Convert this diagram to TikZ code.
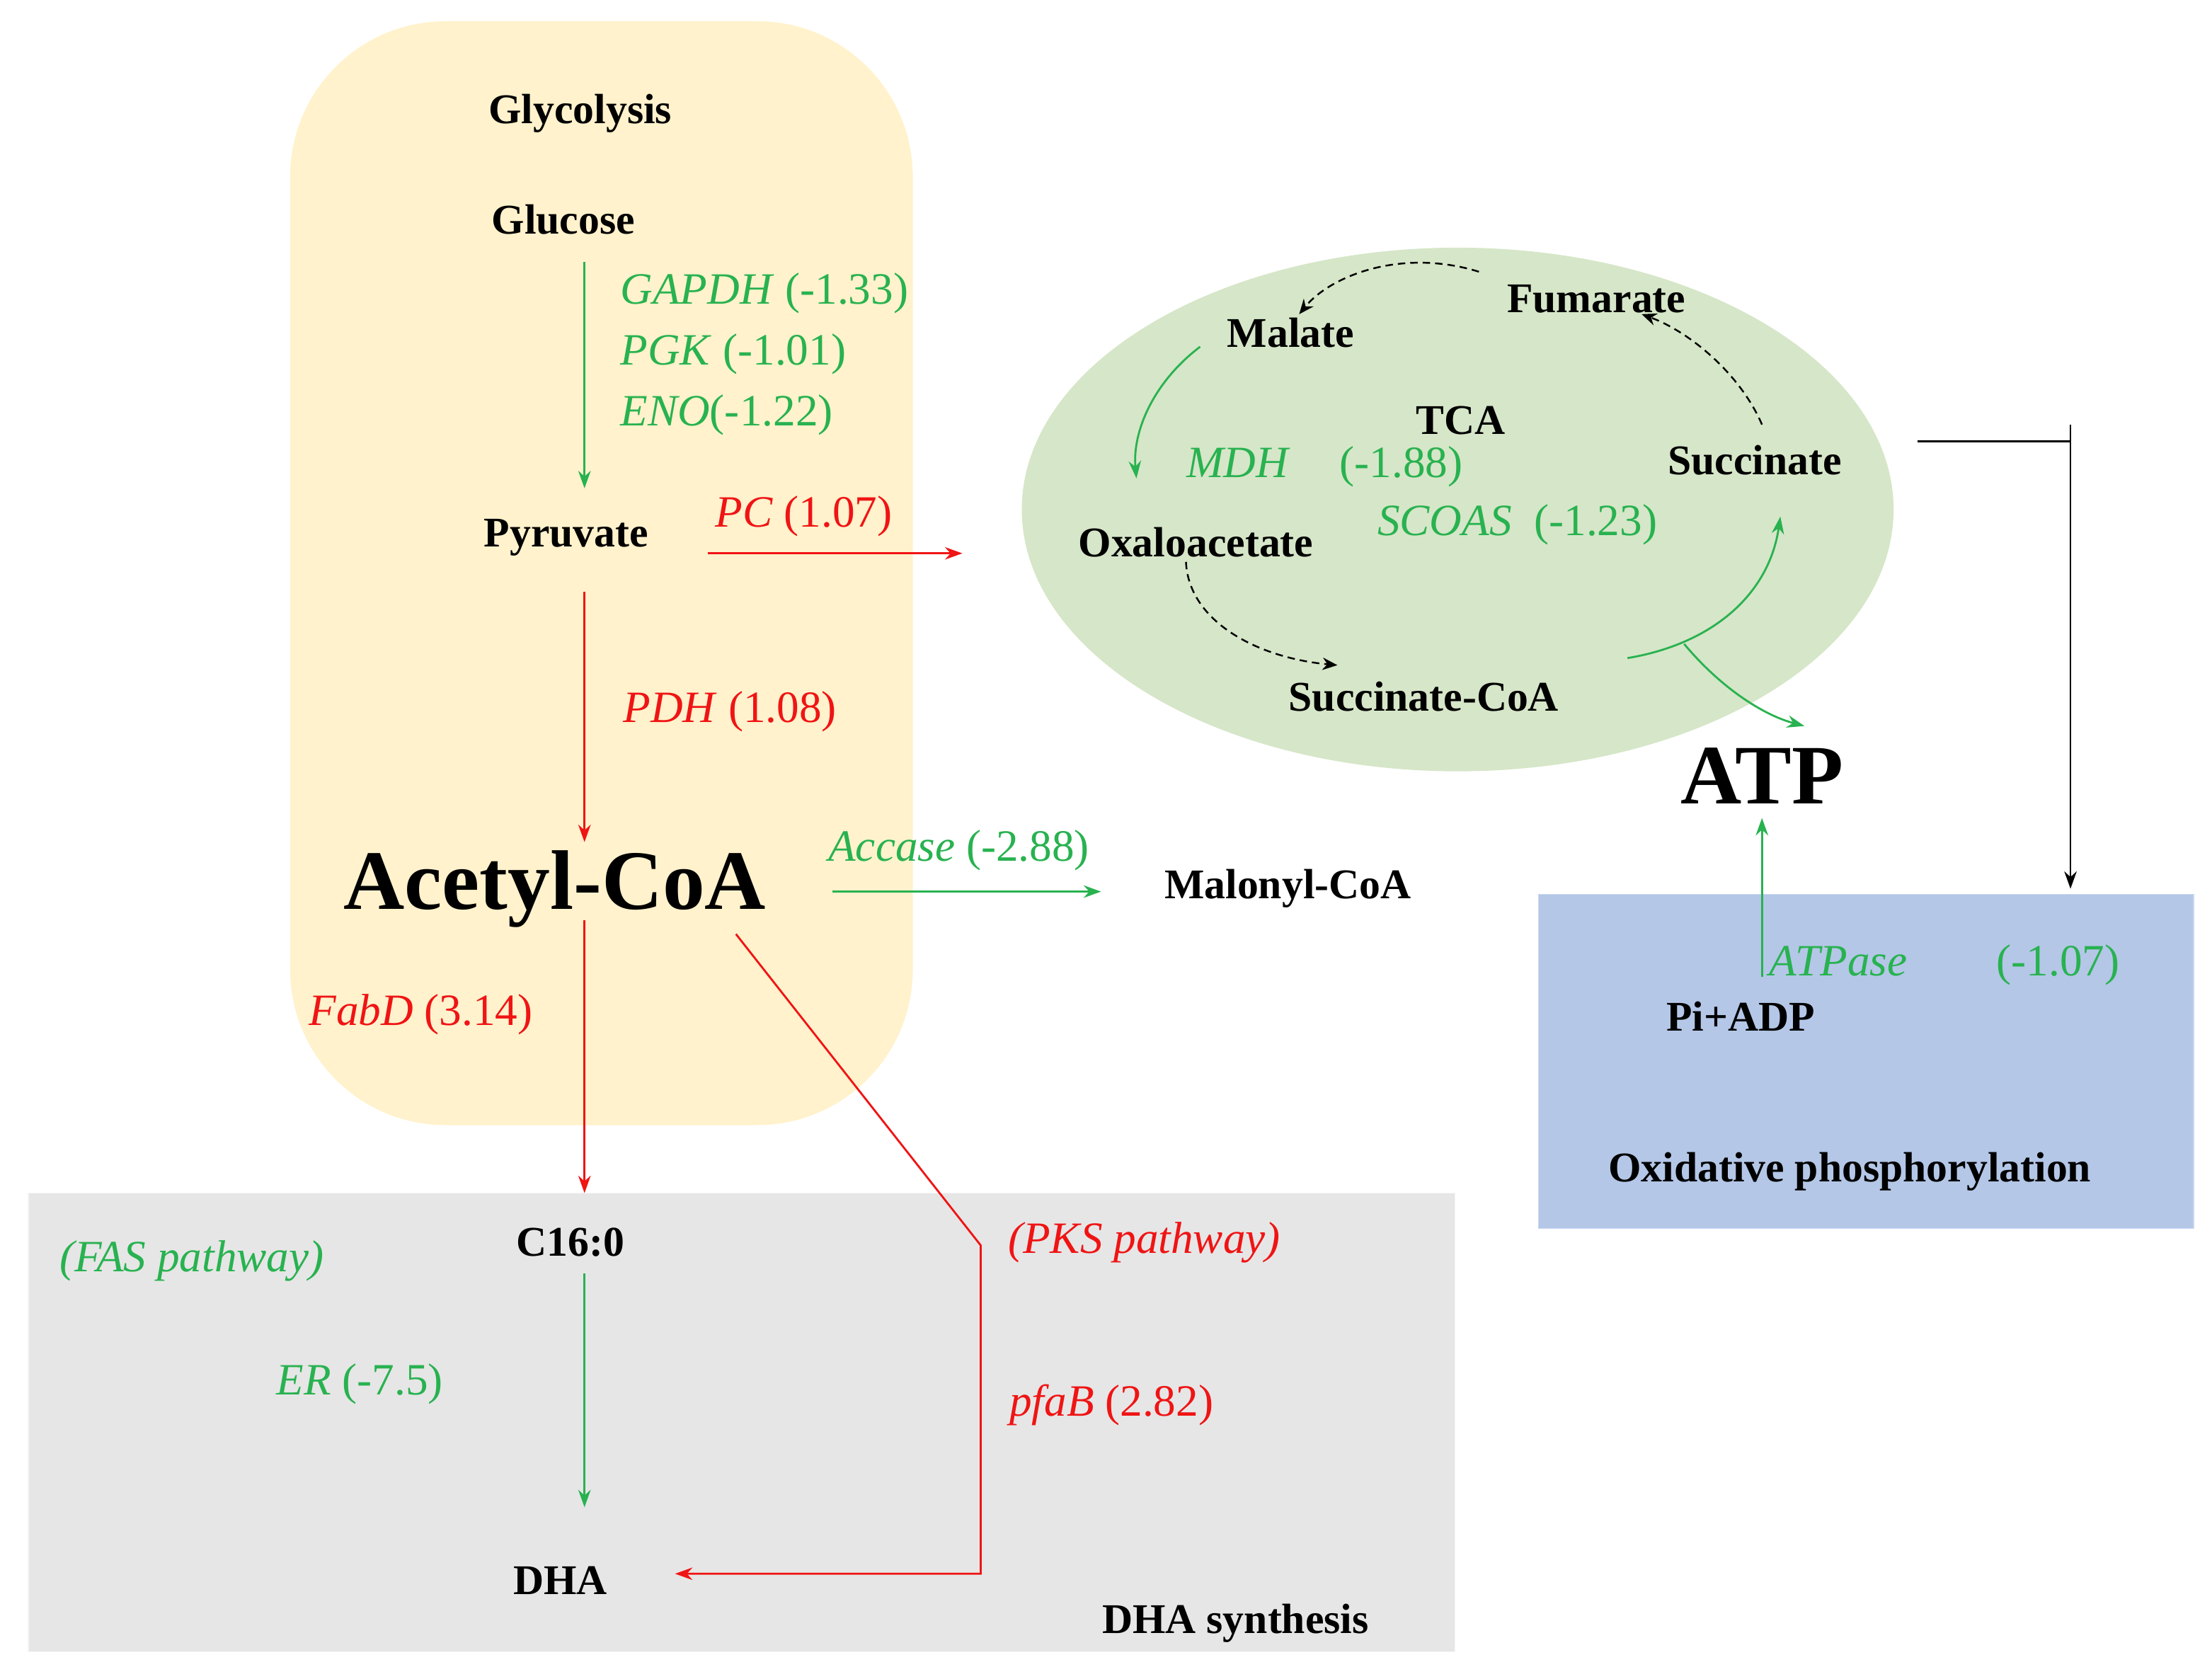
\documentclass[tikz,border=0pt]{standalone}
\usepackage{fontspec}
\setmainfont{Liberation Serif}
\usetikzlibrary{arrows.meta}
\definecolor{gr}{RGB}{40,178,80}
\definecolor{rd}{RGB}{240,20,20}
\begin{document}
\begin{tikzpicture}[x=0.02cm,y=-0.02cm,
 lab/.style={font=\fontsize{17}{19}\selectfont\bfseries,inner sep=0},
 gl/.style={font=\fontsize{18}{20}\selectfont,text=gr,inner sep=0,anchor=west},
 rl/.style={font=\fontsize{18}{20}\selectfont,text=rd,inner sep=0,anchor=west},
 ga/.style={draw=gr,line width=0.8pt,-{Stealth[length=7pt,width=5pt]}},
 ra/.style={draw=rd,line width=0.8pt,-{Stealth[length=7pt,width=5pt]}},
 da/.style={draw=black,densely dashed,line width=0.7pt,-{Stealth[length=6pt,width=5pt]}}]
\useasboundingbox (0,0) rectangle (1563,1186);
\fill[fill={rgb,255:red,255;green,242;blue,204},rounded corners=2.2cm] (205,15) rectangle (645,795);
\filldraw[fill={rgb,255:red,230;green,230;blue,230},draw={rgb,255:red,245;green,245;blue,245}] (20,843) rectangle (1028,1167);
\fill[fill={rgb,255:red,214;green,230;blue,200}] (1030,360) ellipse [x radius=308, y radius=185];
\filldraw[fill={rgb,255:red,180;green,199;blue,231},draw={rgb,255:red,200;green,215;blue,240}] (1087,632) rectangle (1550,868);
% labels
\node[lab] (gly) at (410,80) {Glycolysis};
\node[lab] (glc) at (398,155) {Glucose};
\node[gl] (gapdh) at (438,207) {\textit{GAPDH} (-1.33)};
\node[gl] (pgk) at (438,250) {\textit{PGK} (-1.01)};
\node[gl] (eno) at (438,293) {\textit{ENO}(-1.22)};
\node[lab] (pyr) at (400,380) {Pyruvate};
\node[rl] (pc) at (505,365) {\textit{PC} (1.07)};
\node[rl] (pdh) at (440,503) {\textit{PDH} (1.08)};
\node[font=\fontsize{34}{36}\selectfont\bfseries,inner sep=0] (aca) at (392,628) {Acetyl-CoA};
\node[gl] (acc) at (585,601) {\textit{Accase} (-2.88)};
\node[lab] (mal) at (910,628) {Malonyl-CoA};
\node[rl] (fabd) at (218,717) {\textit{FabD} (3.14)};
\node[lab] (c16) at (403,878) {C16:0};
\node[gl] (fas) at (42,891) {\textit{(FAS pathway)}};
\node[gl] (er) at (195,978) {\textit{ER} (-7.5)};
\node[lab] (dha) at (396,1117) {DHA};
\node[rl] (pks) at (712,878) {\textit{(PKS pathway)}};
\node[rl] (pfab) at (713,993) {\textit{pfaB} (2.82)};
\node[lab] (dhas) at (873,1147) {DHA synthesis};
\node[lab] (malate) at (912,235) {Malate};
\node[lab] (fum) at (1128,211) {Fumarate};
\node[lab] (tca) at (1032,297) {TCA};
\node[lab] (succ) at (1240,325) {Succinate};
\node[gl] (mdh) at (838,330) {\textit{MDH}\hspace{1.1em}(-1.88)};
\node[lab] (oxa) at (845,383) {Oxaloacetate};
\node[gl] (scoas) at (973,371) {\textit{SCOAS}\hspace{0.5em}(-1.23)};
\node[lab] (scoa) at (1006,492) {Succinate-CoA};
\node[font=\fontsize{34}{36}\selectfont\bfseries,inner sep=0] (atp) at (1245,548) {ATP};
\node[gl] (atpase) at (1250,682) {\textit{ATPase}\hspace{2em}(-1.07)};
\node[lab] (piadp) at (1230,718) {Pi+ADP};
\node[lab] (ox) at (1307,828) {Oxidative phosphorylation};
% coordinates
\coordinate (g1) at (413,185); \coordinate (g2) at (413,345);
\coordinate (p1) at (500,391); \coordinate (p2) at (680,391);
\coordinate (d1) at (413,418); \coordinate (d2) at (413,595);
\coordinate (a1) at (588,630); \coordinate (a2) at (778,630);
\coordinate (f1) at (413,650); \coordinate (f2) at (413,843);
\coordinate (e1) at (413,900); \coordinate (e2) at (413,1065);
\coordinate (k1) at (520,660); \coordinate (k2) at (693,880); \coordinate (k3) at (693,1112); \coordinate (k4) at (477,1112);
\coordinate (b1) at (1355,312); \coordinate (b2) at (1463,312); \coordinate (b3) at (1463,628);
\coordinate (t1) at (1245,690); \coordinate (t2) at (1245,578);
\draw[ga] (g1) -- (g2);
\draw[ra] (p1) -- (p2);
\draw[ra] (d1) -- (d2);
\draw[ga] (a1) -- (a2);
\draw[ra] (f1) -- (f2);
\draw[ga] (e1) -- (e2);
\draw[ra] (k1) -- (k2) -- (k3) -- (k4);
\draw[line width=0.8pt,-{Stealth[length=7pt,width=5pt]}] (b1) -- (b2) -- (b3);
\draw[line width=0.8pt] (1463,300) -- (1463,322);
\draw[ga] (t1) -- (t2);
% cycle
\draw[da] (1045,192) .. controls (990,175) and (940,195) .. (918,222);
\draw[da] (1245,300) .. controls (1230,265) and (1195,235) .. (1160,222);
\draw[da] (838,397) .. controls (840,440) and (890,465) .. (945,470);
\draw[ga] (848,245) .. controls (815,270) and (800,305) .. (803,338);
\draw[ga] (1150,465) .. controls (1210,455) and (1250,420) .. (1258,365);
\draw[ga] (1190,455) .. controls (1215,485) and (1245,505) .. (1275,513);
\end{tikzpicture}
\end{document}
